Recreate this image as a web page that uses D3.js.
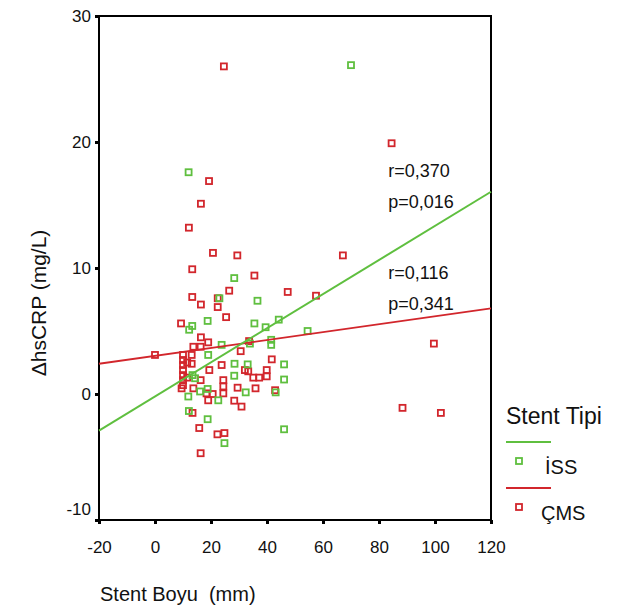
<!DOCTYPE html>
<html>
<head>
<meta charset="utf-8">
<script src="https://cdn.jsdelivr.net/npm/d3@7"></script>
<style>
  body { margin: 0; background: #fff; }
  text { font-family: "Liberation Sans", Arial, sans-serif; fill: #111; }
</style>
</head>
<body>
<script>
// stent length (mm) and delta hsCRP (mg/L)
const issX = [70, 12, 28.3, 23.0, 36.6, 13.3, 12.2, 18.8, 35.5, 39.5, 44.2, 54.5, 23.8, 33.9, 41.5, 41.5, 19.0,
  28.4, 33.1, 46.1, 28.3, 13.4, 14.3, 46.1, 16.1, 11.9, 32.4, 43.1, 22.6, 12.1, 18.8, 24.8, 46.1, 18.8]
const issY = [26.1, 17.6, 9.2, 7.6, 7.4, 5.4, 5.1, 5.8, 5.6, 5.3, 5.9, 5.0, 3.9, 4.0, 4.3, 3.9, 3.1,
  2.4, 2.35, 2.35, 1.45, 1.5, 1.25, 1.15, 0.2, -0.2, 0.13, 0.13, -0.5, -1.35, -2.0, -3.9, -2.8, 0.4]

const cmsX = [24.6, 84.5, 19.3, 16.4, 12.1, 20.7, 29.4, 67.1, 13.3, 35.5, 26.5, 47.4, 57.5, 13.3, 22.4, 16.4,
  22.4, 25.4, 9.3, 16.4, 19.0, 13.7, 16.3, 33.6, 30.6, 99.6, 0, 13.1, 13.1, 41.7, 23.8, 19.4, 32.1, 33.3,
  39.9, 39.9, 35.1, 37.2, 16.3, 24.4, 24.4, 24.4, 9.5, 13.7, 29.5, 35.9, 18.4, 20.6, 19.0, 28.3, 30.9,
  13.4, 15.8, 22.3, 24.8, 16.3, 88.4, 102.1, 42.9, 10, 10, 10, 10, 10, 10, 10, 11.5, 11.5]
const cmsY = [26.0, 19.9, 16.9, 15.1, 13.2, 11.2, 11.0, 11.0, 9.9, 9.4, 8.2, 8.1, 7.8, 7.7, 7.6, 7.1,
  6.9, 6.1, 5.6, 4.5, 4.1, 3.75, 3.75, 4.2, 3.4, 4.0, 3.1, 3.1, 2.4, 2.75, 2.3, 1.9, 1.9, 1.8,
  1.9, 1.4, 1.3, 1.3, 1.1, 1.1, 0.6, 0.05, 0.45, 0.45, 0.5, 0.45, 0.05, 0.0, -0.5, -0.53, -1.0,
  -1.5, -2.7, -3.2, -3.1, -4.7, -1.1, -1.5, 0.3, 3.1, 2.7, 2.3, 1.9, 1.5, 1.1, 0.7, 2.5, 1.3]

// fit lines: value at x = -20 and x = 120
const fitX = [-20, 120]
const issFit = [-2.9, 16.05]
const cmsFit = [2.4, 6.8]

const xTicks = [-20, 0, 20, 40, 60, 80, 100, 120]
const yTicks = [-10, 0, 10, 20, 30]
const statText = ["r=0,370", "p=0,016", "r=0,116", "p=0,341"]
const groupNames = ["İSS", "ÇMS"]

const green = "#5fbf3f", red = "#d2262c"

const svg = d3.select("body").append("svg")
    .attr("width", 617)
    .attr("height", 609)

const x = d3.scaleLinear().domain([-20, 120]).range([99, 491])
const y = d3.scaleLinear().domain([-10, 30]).range([520, 16])

// axes: short thick ticks, no domain (frame drawn separately)
const xAxis = svg.append("g")
    .attr("transform", "translate(0,520)")
    .call(d3.axisBottom(x).tickValues(xTicks).tickFormat(d => String(d)).tickSize(4).tickSizeOuter(0))
xAxis.select(".domain").remove()
xAxis.selectAll("line").attr("stroke", "#000").attr("stroke-width", 3)
xAxis.selectAll("text")
    .attr("y", 33).attr("dy", null)
    .attr("font-size", 17).attr("font-family", null).attr("fill", "#111")

const yAxis = svg.append("g")
    .attr("transform", "translate(99,0)")
    .call(d3.axisLeft(y).tickValues(yTicks).tickFormat(d => String(d)).tickSize(4).tickSizeOuter(0))
yAxis.select(".domain").remove()
yAxis.selectAll("line").attr("stroke", "#000").attr("stroke-width", 3)
yAxis.selectAll("text")
    .attr("x", -8).attr("dy", "0.35em")
    .attr("font-size", 17).attr("font-family", null).attr("fill", "#111")
    .attr("transform", d => d == -10 ? "translate(0,-11)" : null)

svg.append("rect")
    .attr("x", 99).attr("y", 16)
    .attr("width", 392).attr("height", 504)
    .attr("fill", "none").attr("stroke", "#000").attr("stroke-width", 2)

// points
const plot = svg.append("g")
function drawGroup(xs, ys, color) {
  plot.selectAll(null).data(xs.map((d, i) => [d, ys[i]]))
    .enter().append("rect")
      .attr("x", d => x(d[0]) - 3)
      .attr("y", d => y(d[1]) - 3)
      .attr("width", 6).attr("height", 6)
      .attr("fill", "none")
      .attr("stroke", color)
      .attr("stroke-width", 1.8)
}
drawGroup(cmsX, cmsY, red)
drawGroup(issX, issY, green)

// fit lines
const line = d3.line().x(d => x(d[0])).y(d => y(d[1]))
svg.append("path").datum(fitX.map((d, i) => [d, cmsFit[i]]))
    .attr("d", line).attr("stroke", red).attr("stroke-width", 1.8).attr("fill", "none")
svg.append("path").datum(fitX.map((d, i) => [d, issFit[i]]))
    .attr("d", line).attr("stroke", green).attr("stroke-width", 2).attr("fill", "none")

// r / p annotations
const statY = [17.25, 14.8, 9.1, 6.7]
svg.selectAll(".stat").data(statText)
  .enter().append("text")
    .attr("class", "stat")
    .attr("x", x(83.3))
    .attr("y", (d, i) => y(statY[i]))
    .attr("font-size", 18)
    .text(d => d)

// axis titles
svg.append("text")
    .attr("transform", "translate(46,303) rotate(-90)")
    .attr("text-anchor", "middle")
    .attr("font-size", 21)
    .text("ΔhsCRP (mg/L)")
svg.append("text")
    .attr("x", 100).attr("y", 601)
    .attr("font-size", 20)
    .style("white-space", "pre")
    .text("Stent Boyu  (mm)")

// legend
const legend = svg.append("g")
legend.append("text")
    .attr("x", 506).attr("y", 424)
    .attr("font-size", 23)
    .text("Stent Tipi")
const legColors = [green, red]
groupNames.forEach((name, i) => {
  const ly = 442 + i * 46
  legend.append("line")
      .attr("x1", 506).attr("x2", 551).attr("y1", ly).attr("y2", ly)
      .attr("stroke", legColors[i]).attr("stroke-width", 2)
  legend.append("rect")
      .attr("x", 516).attr("y", ly + 16)
      .attr("width", 6).attr("height", 6)
      .attr("fill", "none").attr("stroke", legColors[i]).attr("stroke-width", 1.8)
  legend.append("text")
      .attr("x", i == 0 ? 545 : 541).attr("y", ly + 32)
      .attr("font-size", 20)
      .text(name)
})
</script>
</body>
</html>
